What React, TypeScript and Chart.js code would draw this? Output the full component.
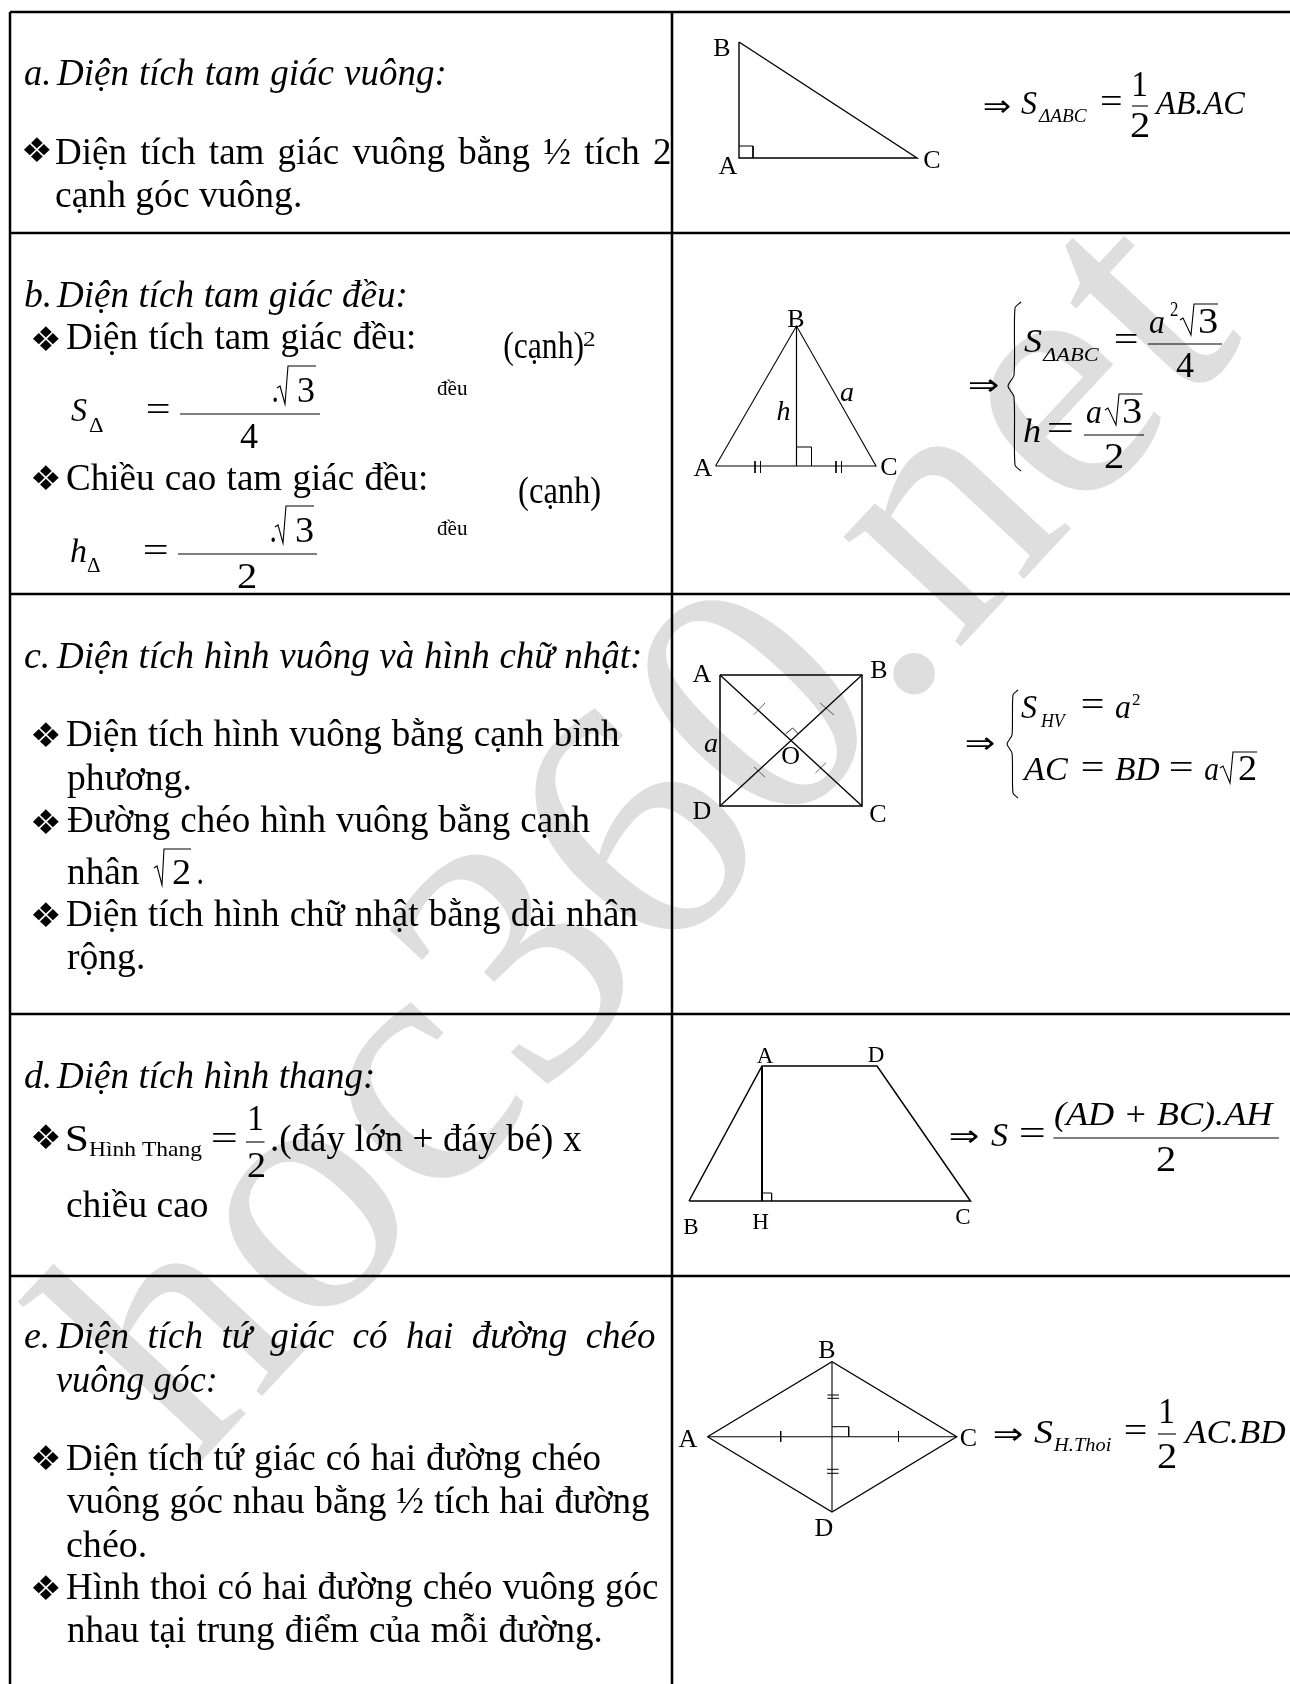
import React, { useEffect, useRef } from "react";
import { Chart, registerables } from "chart.js";

Chart.register(...registerables);

type P = [number, number];
type Anchor = [number, number, number?];

const WIDTH = 1290;
const HEIGHT = 1684;

// ---- table rules (in page units)
const tableRules: P[][] = [
  [[10, 12], [1290, 12]],
  [[10, 233], [1290, 233]],
  [[10, 594], [1290, 594]],
  [[10, 1014], [1290, 1014]],
  [[10, 1276], [1290, 1276]],
  [[10, 12], [10, 1684]],
  [[672, 12], [672, 1684]],
];

// ---- figures
const rightTriangle: P[] = [[739, 42], [739, 158], [917, 158], [739, 42]];
const rightTriangleMark: P[] = [[739, 146], [753, 146], [753, 158]];
const equilateral: P[] = [[715.5, 466], [796.5, 326], [876, 466], [715.5, 466]];
const equilateralHeight: P[] = [[796.5, 326], [796.5, 466]];
const equilateralMark: P[] = [[796.5, 447], [811.5, 447], [811.5, 466]];
const equilateralTicks: P[][] = [
  [[755, 461], [755, 473]],
  [[760.5, 461], [760.5, 473]],
  [[836, 461], [836, 473]],
  [[841.5, 461], [841.5, 473]],
];
const square: P[] = [[720, 675], [862, 675], [862, 806], [720, 806], [720, 675]];
const squareDiagonals: P[][] = [
  [[720, 675], [862, 806]],
  [[862, 675], [720, 806]],
];
const squareMark: P[] = [[785.5, 734], [792.6, 728], [798.5, 734]];
const squareTicks: P[][] = [
  [[754, 714.6], [765, 703]],
  [[820, 703], [834, 715]],
  [[754, 767], [765, 777]],
  [[815.5, 773], [826, 762.6]],
];
const trapezoid: P[] = [[689, 1201], [762, 1066], [877, 1066], [970.5, 1201], [689, 1201]];
const trapezoidHeight: P[] = [[762, 1066], [762, 1201]];
const trapezoidMark: P[] = [[762, 1193], [771.6, 1193], [771.6, 1201]];
const rhombus: P[] = [[707.5, 1436.7], [832, 1361.7], [956.7, 1436.7], [832, 1512], [707.5, 1436.7]];
const rhombusDiagonals: P[][] = [
  [[707.5, 1436.7], [956.7, 1436.7]],
  [[832, 1361.7], [832, 1512]],
];
const rhombusMark: P[] = [[832, 1426.7], [848.7, 1426.7], [848.7, 1436.7]];
const rhombusTicks: P[][] = [
  [[780.7, 1431], [780.7, 1442]],
  [[898.5, 1431], [898.5, 1442]],
  [[827.4, 1395], [839, 1395]],
  [[827.4, 1398.3], [839, 1398.3]],
  [[827, 1469.3], [838.5, 1469.3]],
  [[827, 1473.3], [838.5, 1473.3]],
];

// ---- fraction bars
const fractionBars: P[][] = [
  [[180, 414], [320, 414]],
  [[178, 554], [317, 554]],
  [[246, 1142], [264.5, 1142]],
  [[1132, 106], [1148, 106]],
  [[1148, 344], [1222, 344]],
  [[1084, 435], [1144, 435]],
  [[1053.5, 1138], [1279, 1138]],
  [[1158, 1434], [1176, 1434]],
];

// ---- radicals
const radicals: P[][] = [
  [[277, 388], [280, 386], [285, 404], [288, 366], [316, 366]],
  [[275, 527], [278, 525], [283, 543], [286, 506], [314, 506]],
  [[154, 868], [157, 866], [162, 885], [164, 849], [191, 849]],
  [[1180, 320], [1183, 318], [1191, 335], [1194, 304], [1218, 304]],
  [[1105, 410], [1108, 408], [1116, 425], [1119, 394], [1142.5, 394]],
  [[1220, 768], [1223, 766], [1230, 783], [1233, 752], [1257, 752]],
];

// ---- braces
const braces: P[][] = [
  [[1021, 302], [1015, 308], [1014, 375], [1008, 386], [1014, 397], [1015, 465], [1021, 471]],
  [[1018, 690], [1013, 695], [1012, 735], [1007, 744], [1012, 753], [1013, 793], [1018, 798]],
];

// ---- text: titles
const titleLabels = [
  "a.", "Diện tích tam giác vuông:",
  "b.", "Diện tích tam giác đều:",
  "c.", "Diện tích hình vuông và hình chữ nhật:",
  "d.", "Diện tích hình thang:",
  "e.", "Diện tích tứ giác có hai đường chéo", "vuông góc:",
];
const titleAnchors: Anchor[] = [
  [25, 85, 48], [56, 85, 444.5],
  [25, 307, 49], [56, 307, 405.5],
  [25, 668, 47], [56, 668, 640],
  [25, 1087.5, 49], [56, 1087.5, 373],
  [25, 1348, 47], [56, 1348, 655], [56, 1392, 215.5],
];

// ---- text: body
const bodyLabels = [
  "Diện tích tam giác vuông bằng ½ tích 2",
  "cạnh góc vuông.",
  "Diện tích tam giác đều:",
  "Chiều cao tam giác đều:",
  "(cạnh)",
  "(cạnh)",
  "Diện tích hình vuông bằng cạnh bình",
  "phương.",
  "Đường chéo hình vuông bằng cạnh",
  "nhân",
  ".",
  "Diện tích hình chữ nhật bằng dài nhân",
  "rộng.",
  "S",
  ".(đáy lớn + đáy bé) x",
  "chiều cao",
  "Diện tích tứ giác có hai đường chéo",
  "vuông góc nhau bằng ½ tích hai đường",
  "chéo.",
  "Hình thoi có hai đường chéo vuông góc",
  "nhau tại trung điểm của mỗi đường.",
  ".",
  ".",
];
const bodyAnchors: Anchor[] = [
  [56, 164, 670],
  [56, 207, 300],
  [67, 349, 414],
  [67, 490, 426],
  [504, 358, 583],
  [519, 503, 600],
  [67, 746, 620],
  [67, 790, 189.5],
  [67, 832, 590.6],
  [67, 883.5, 139],
  [198, 883.5, 202],
  [67, 926, 637.5],
  [67, 969, 143],
  [67, 1150.6, 87],
  [272, 1150.6, 582],
  [67, 1217, 208],
  [67, 1470, 600.6],
  [67, 1513, 649],
  [67, 1557, 145],
  [67, 1599, 658],
  [67, 1642, 600.6],
  [273, 402, 277],
  [271, 541.5, 275],
];

// ---- text: bullets
const bulletLabels = ["❖", "❖", "❖", "❖", "❖", "❖", "❖", "❖", "❖"];
const bulletAnchors: Anchor[] = [
  [23, 162, 50],
  [32, 351, 59],
  [32, 490, 59],
  [32, 747, 59],
  [32, 833.5, 59],
  [32, 926.5, 59],
  [32, 1149, 59],
  [32, 1470, 59],
  [32, 1600, 59],
];

// ---- text: small roman
const smallLabels = ["2", "đều", "đều", "Δ", "Δ", "Hình Thang", "2"];
const smallAnchors: Anchor[] = [
  [583, 346, 595],
  [437, 395, 468],
  [437, 535, 468],
  [89, 432, 103],
  [87, 572, 100],
  [89, 1155.6, 202.5],
  [1170, 316, 1178],
];

// ---- text: math italic
const mathItalicLabels = [
  "S", "h", "S", "AB.AC", "S", "h", "a", "a", "S", "a", "AC", "BD", "a",
  "S", "(AD + BC).AH", "S", "AC.BD",
];
const mathItalicAnchors: Anchor[] = [
  [71, 421, 87],
  [71, 562, 86],
  [1021, 114, 1037],
  [1154, 113.6, 1245],
  [1024, 352, 1042],
  [1024, 442, 1040],
  [1150, 333, 1164],
  [1087, 423, 1101],
  [1021, 718, 1037],
  [1116, 718, 1130],
  [1022, 780, 1068],
  [1115, 780, 1160],
  [1205, 780, 1218],
  [991, 1145.6, 1008],
  [1055, 1125, 1275],
  [1034, 1443, 1053],
  [1183, 1442.7, 1286],
];

// ---- text: math subscripts
const subscriptLabels = ["ΔABC", "ΔABC", "HV", "H.Thoi"];
const subscriptAnchors: Anchor[] = [
  [1038, 122, 1087],
  [1042, 360.5, 1099],
  [1040, 727, 1067],
  [1053, 1451, 1111],
];

// ---- text: math roman
const mathRomanLabels = [
  "=", "3", "4", "=", "3", "2", "=", "1", "2",
  "=", "1", "2", "=", "4", "3", "=", "3", "2",
  "=", "=", "=", "2", "=", "2", "=", "1", "2", "2",
];
const mathRomanAnchors: Anchor[] = [
  [147, 421, 169], [298, 402, 314], [240, 448, 258],
  [144, 562, 167], [296, 541.5, 313], [238, 588, 256],
  [212, 1150, 236], [250, 1129.6, 262], [248, 1177, 265],
  [1101, 113, 1121], [1134, 96, 1146], [1131, 137, 1149],
  [1115, 351, 1137], [1176, 377, 1194], [1199, 333, 1217],
  [1048, 440, 1072], [1123, 423, 1141], [1105, 468, 1123],
  [1082, 716, 1103], [1082, 779, 1103], [1170, 779, 1192],
  [1239, 780, 1256], [1020, 1145, 1044], [1157, 1171, 1175],
  [1125, 1442, 1146], [1161, 1422.7, 1173], [1158, 1467.7, 1176],
  [173, 883.5, 190],
];

// ---- text: implication arrows
const arrowLabels = ["⇒", "⇒", "⇒", "⇒", "⇒"];
const arrowAnchors: Anchor[] = [
  [984, 116, 1010],
  [969, 395, 998],
  [966, 753, 994],
  [950, 1146, 978],
  [994, 1444, 1022],
];

// ---- text: tiny superscript on a²
const tinyLabels = ["2"];
const tinyAnchors: Anchor[] = [[1132, 704.5, 1140]];

// ---- text: figure letters
const vertexLabels = [
  "B", "A", "C",
  "B", "A", "C",
  "A", "B", "D", "C", "O",
  "B", "A", "C", "D",
];
const vertexAnchors: Anchor[] = [
  [722, 56], [728, 174], [932, 168],
  [796, 327], [703, 476], [889, 475],
  [702, 682], [879, 678], [702, 819], [878, 822], [790.6, 764],
  [827, 1358], [688, 1447], [968.5, 1446], [824, 1536],
];
const vertexSmallLabels = ["A", "D", "B", "H", "C"];
const vertexSmallAnchors: Anchor[] = [
  [765, 1063], [876, 1062], [691, 1234], [760.5, 1229], [963, 1224],
];
const sideLabels = ["h", "a", "a"];
const sideAnchors: Anchor[] = [[783.5, 420], [847, 401], [711, 752]];

// ---- watermark
const watermarkText = "hoc360.net";

const FONT = "'Liberation Serif'";
const textGroups = [
  { labels: titleLabels, anchors: titleAnchors, font: `italic 37px ${FONT}`, align: "left" },
  { labels: bodyLabels, anchors: bodyAnchors, font: `37px ${FONT}`, align: "left" },
  { labels: bulletLabels, anchors: bulletAnchors, font: "34px 'DejaVu Sans'", align: "left" },
  { labels: smallLabels, anchors: smallAnchors, font: `21px ${FONT}`, align: "left" },
  { labels: mathItalicLabels, anchors: mathItalicAnchors, font: `italic 34px ${FONT}`, align: "left" },
  { labels: subscriptLabels, anchors: subscriptAnchors, font: `italic 19px ${FONT}`, align: "left" },
  { labels: mathRomanLabels, anchors: mathRomanAnchors, font: `36px ${FONT}`, align: "left" },
  { labels: arrowLabels, anchors: arrowAnchors, font: "30px 'DejaVu Sans'", align: "left" },
  { labels: tinyLabels, anchors: tinyAnchors, font: `17px ${FONT}`, align: "left" },
  { labels: vertexLabels, anchors: vertexAnchors, font: `26px ${FONT}`, align: "center" },
  { labels: vertexSmallLabels, anchors: vertexSmallAnchors, font: `23px ${FONT}`, align: "center" },
  { labels: sideLabels, anchors: sideAnchors, font: `italic 28px ${FONT}`, align: "center" },
];

function lineSet(label: string, points: P[], width: number, curve = 0) {
  return {
    label,
    data: points.map(([x, y]) => ({ x, y })),
    showLine: true,
    borderColor: "#000000",
    borderWidth: width,
    pointRadius: 0,
    tension: curve,
    fill: false,
  };
}

const pagePlugin = {
  id: "pageText",
  beforeDatasetsDraw(chart: any) {
    const { ctx, scales } = chart;
    ctx.save();
    ctx.translate(scales.x.getPixelForValue(193), scales.y.getPixelForValue(1470));
    ctx.rotate((-47 * Math.PI) / 180);
    ctx.font = `350px ${FONT}`;
    ctx.fillStyle = "#dedede";
    ctx.textAlign = "left";
    ctx.textBaseline = "alphabetic";
    ctx.fillText(watermarkText, 0, 0);
    ctx.restore();
  },
  afterDatasetsDraw(chart: any) {
    const { ctx, scales } = chart;
    ctx.save();
    ctx.fillStyle = "#000000";
    ctx.textBaseline = "alphabetic";
    for (const group of textGroups) {
      ctx.font = group.font;
      ctx.textAlign = group.align;
      group.labels.forEach((text: string, i: number) => {
        const [x, y, right] = group.anchors[i];
        const px = scales.x.getPixelForValue(x);
        const py = scales.y.getPixelForValue(y);
        ctx.save();
        ctx.translate(px, py);
        if (right !== undefined) {
          const box = ctx.measureText(text);
          const ink = box.actualBoundingBoxLeft + box.actualBoundingBoxRight;
          const target = scales.x.getPixelForValue(right) - px;
          const gaps = (text.match(/ /g) || []).length;
          if (gaps >= 3) {
            ctx.wordSpacing = `${(target - ink) / gaps}px`;
          } else {
            ctx.scale(target / ink, 1);
          }
          ctx.fillText(text, box.actualBoundingBoxLeft, 0);
          ctx.wordSpacing = "0px";
        } else {
          ctx.fillText(text, 0, 0);
        }
        ctx.restore();
      });
    }
    ctx.restore();
  },
};

export default function App() {
  const ref = useRef<HTMLCanvasElement | null>(null);
  useEffect(() => {
    if (!ref.current) return;
    const datasets = [
      ...tableRules.map((p, i) => lineSet(`rule${i}`, p, 2.5)),
      lineSet("rightTriangle", rightTriangle, 1.4),
      lineSet("rightTriangleMark", rightTriangleMark, 1),
      lineSet("equilateral", equilateral, 1.1),
      lineSet("equilateralHeight", equilateralHeight, 1.2),
      lineSet("equilateralMark", equilateralMark, 1),
      ...equilateralTicks.map((p, i) => lineSet(`eqTick${i}`, p, 0.9)),
      lineSet("square", square, 1.5),
      ...squareDiagonals.map((p, i) => lineSet(`sqDiag${i}`, p, 1.3)),
      lineSet("squareMark", squareMark, 0.8),
      ...squareTicks.map((p, i) => lineSet(`sqTick${i}`, p, 0.6)),
      lineSet("trapezoid", trapezoid, 1.5),
      lineSet("trapezoidHeight", trapezoidHeight, 2),
      lineSet("trapezoidMark", trapezoidMark, 1),
      lineSet("rhombus", rhombus, 1.3),
      ...rhombusDiagonals.map((p, i) => lineSet(`rhDiag${i}`, p, 1.1)),
      lineSet("rhombusMark", rhombusMark, 1),
      ...rhombusTicks.map((p, i) => lineSet(`rhTick${i}`, p, 1)),
      ...fractionBars.map((p, i) => lineSet(`bar${i}`, p, 1.1)),
      ...radicals.map((p, i) => lineSet(`radical${i}`, p, 1.1)),
      ...braces.map((p, i) => lineSet(`brace${i}`, p, 1.1, 0.25)),
    ];
    const chart = new Chart(ref.current, {
      type: "scatter",
      data: { datasets },
      options: {
        animation: false,
        responsive: false,
        layout: { padding: 0 },
        plugins: { legend: { display: false }, tooltip: { enabled: false }, title: { display: false } },
        scales: {
          x: { type: "linear", display: false, min: 0, max: WIDTH },
          y: { type: "linear", display: false, min: 0, max: HEIGHT, reverse: true },
        },
      },
      plugins: [pagePlugin],
    } as any);
    return () => chart.destroy();
  }, []);
  return (
    <div style={{ position: "absolute", left: 0, top: 0, width: WIDTH, height: HEIGHT, background: "#ffffff", overflow: "hidden" }}>
      <canvas ref={ref} width={WIDTH} height={HEIGHT} style={{ display: "block" }} />
    </div>
  );
}
